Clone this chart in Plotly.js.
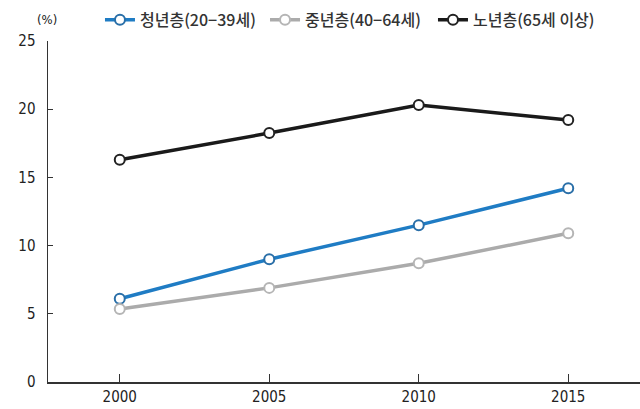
<!DOCTYPE html>
<html><head><meta charset="utf-8">
<script src="https://cdn.plot.ly/plotly-3.0.1.min.js"></script>
<style>html,body{margin:0;padding:0;background:#fff}#c{width:640px;height:409px}</style>
</head><body><div id="c"></div>
<script>
const years = [2000, 2005, 2010, 2015];
const seriesNames = ['청년층(20−39세)', '중년층(40−64세)', '노년층(65세 이상)'];
const youth = [6.1, 9.0, 11.5, 14.2];
const middle = [5.35, 6.9, 8.7, 10.9];
const elderly = [16.3, 18.25, 20.3, 19.2];
const yTicks = [0, 5, 10, 15, 20, 25];

const colors = ['#1f7cc4', '#ababab', '#1a1a1a'];
const markerLines = ['#2a6fa8', '#b5b5b5', '#222222'];
const legendIds = ['legend', 'legend2', 'legend3'];
const data = [youth, middle, elderly].map((v, i) => ({
  x: years, y: v, name: seriesNames[i], type: 'scatter', mode: 'lines+markers',
  legend: legendIds[i],
  line: {color: colors[i], width: 3.5},
  marker: {size: 10, color: '#ffffff', line: {color: markerLines[i], width: 2}}
}));

const font = "'Liberation Sans Narrow', 'DejaVu Sans Condensed', 'Roboto Condensed', sans-serif";
const legFont = {family: "'Noto Sans CJK KR', sans-serif", size: 16, color: '#333', weight: 500};
const legBase = {orientation: 'h', y: 1.062, xanchor: 'left', yanchor: 'middle', font: legFont,
  itemwidth: 30, itemclick: false, bgcolor: 'rgba(0,0,0,0)'};
Plotly.newPlot('c', data, {
  width: 640, height: 409,
  margin: {l: 48, r: 0, t: 41, b: 27, autoexpand: false},
  paper_bgcolor: '#fff', plot_bgcolor: '#fff',
  showlegend: true,
  legend: Object.assign({}, legBase, {x: 0.0878}),
  legend2: Object.assign({}, legBase, {x: 0.3666}),
  legend3: Object.assign({}, legBase, {x: 0.6503}),
  xaxis: {range: [1997.6, 2017.4], tickvals: years, ticks: 'inside', ticklen: 8, tickcolor: '#333',
    showline: true, linecolor: '#333', linewidth: 1.5, showgrid: false, zeroline: false,
    tickfont: {family: font, size: 15, color: '#222', stretch: 'condensed'}},
  yaxis: {range: [0, 25], tickvals: yTicks, ticks: 'inside', ticklen: 5, tickcolor: '#333',
    showline: true, linecolor: '#333', linewidth: 1.5, showgrid: false, zeroline: false,
    ticklabelstandoff: 8,
    tickfont: {family: font, size: 15, color: '#222', stretch: 'condensed'}},
  annotations: [{text: '(%)', xref: 'paper', yref: 'paper', x: -0.022, y: 1.062, xanchor: 'left', yanchor: 'middle',
    showarrow: false, font: {family: font, size: 13, color: '#222', stretch: 'condensed'}}]
}, {displayModeBar: false, staticPlot: true});
</script></body></html>
